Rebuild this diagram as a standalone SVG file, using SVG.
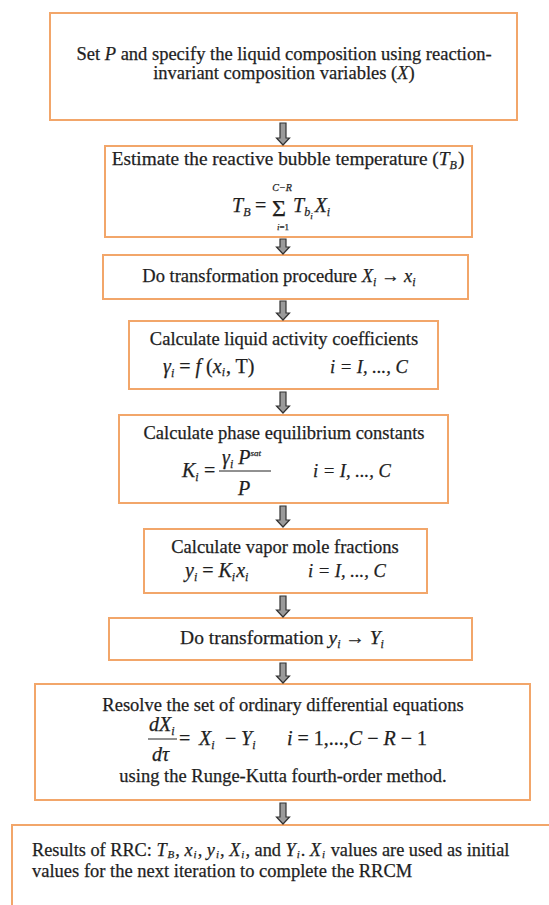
<svg xmlns="http://www.w3.org/2000/svg" width="549" height="905" viewBox="0 0 549 905">
<style>
.box{fill:#fff;stroke:#F2A66A;stroke-width:2}
.t{font-family:"Liberation Serif","Times New Roman",serif;font-size:18.5px;fill:#1e1e1e;stroke:#1e1e1e;stroke-width:0.25}
.f{font-size:20px}
.m{text-anchor:middle}
.i{font-style:italic}
.s{font-size:12px}
.s9{font-size:11px}
.ss{font-size:9px}
.arr{fill:#9a9a9a;stroke:#333;stroke-width:1.2}
.bar{stroke:#222;stroke-width:1}
</style>
<rect width="549" height="905" fill="#fff"/>
<g id="n1">
<rect class="box" x="50" y="13" width="467" height="107"/>
<text class="t m" x="284" y="60">Set <tspan class="i">P</tspan> and specify the liquid composition using reaction-</text>
<text class="t m" x="284" y="79">invariant composition variables (<tspan class="i">X</tspan>)</text>
</g>
<g id="n2">
<rect class="box" x="105" y="146" width="367" height="91"/>
<text class="t m" x="288" y="165" style="font-size:19.3px">Estimate the reactive bubble temperature (<tspan class="i">T</tspan><tspan class="i s" dy="4">B</tspan><tspan dy="-4" dx="1">)</tspan></text>
<text class="t i f" x="232" y="212">T<tspan class="s" dy="4">B</tspan></text>
<text class="t f" x="255" y="212">=</text>
<text class="t" x="272" y="216" style="font-size:24px">Σ</text>
<text class="t i m" x="282" y="191" style="font-size:10px">C−R</text>
<text class="t m" x="283" y="230" style="font-size:9px"><tspan class="i">i</tspan>=1</text>
<text class="t i f" x="293" y="212">T<tspan class="s" dy="4">b</tspan><tspan class="ss" dy="3">i</tspan><tspan dy="-7" dx="2">X</tspan><tspan class="s" dy="4">i</tspan></text>
</g>
<g id="n3">
<rect class="box" x="103" y="255" width="365" height="44"/>
<text class="t m" x="279" y="282">Do transformation procedure <tspan class="i">X</tspan><tspan class="i s" dy="4">i</tspan><tspan dy="-4"> → </tspan><tspan class="i">x</tspan><tspan class="i s" dy="4">i</tspan></text>
</g>
<g id="n4">
<rect class="box" x="129" y="321" width="309" height="68"/>
<text class="t m" x="284" y="345">Calculate liquid activity coefficients</text>
<text class="t f" x="163" y="373"><tspan class="i">γ</tspan><tspan class="i s" dy="4">i</tspan><tspan dy="-4"> = </tspan><tspan class="i">f</tspan> (<tspan class="i">x</tspan><tspan class="i s" dy="3">i</tspan><tspan dy="-3" dx="1">, T)</tspan></text>
<text class="t i" x="330" y="373">i = I, ..., C</text>
</g>
<g id="n5">
<rect class="box" x="119" y="415" width="329" height="88"/>
<text class="t m" x="284" y="439">Calculate phase equilibrium constants</text>
<text class="t i f" x="182" y="477">K<tspan class="s" dy="4">i</tspan></text>
<text class="t f" x="204" y="477">=</text>
<text class="t i f" x="222" y="464">γ<tspan class="s" dy="4">i</tspan><tspan dy="-4"> P</tspan><tspan class="ss" dy="-8">sat</tspan></text>
<line class="bar" x1="219" y1="471" x2="271" y2="471"/>
<text class="t i m f" x="244" y="495">P</text>
<text class="t i" x="313" y="477">i = I, ..., C</text>
</g>
<g id="n6">
<rect class="box" x="144" y="529" width="283" height="64"/>
<text class="t m" x="285" y="553">Calculate vapor mole fractions</text>
<text class="t f" x="185" y="577"><tspan class="i">y</tspan><tspan class="i s" dy="4">i</tspan><tspan dy="-4"> = </tspan><tspan class="i">K</tspan><tspan class="i s" dy="4">i</tspan><tspan class="i" dy="-4" dx="1">x</tspan><tspan class="i s" dy="4">i</tspan></text>
<text class="t i" x="308" y="577">i = I, ..., C</text>
</g>
<g id="n7">
<rect class="box" x="109" y="618" width="363" height="42"/>
<text class="t m" x="282" y="644" style="font-size:19.5px">Do transformation  <tspan class="i">y</tspan><tspan class="i s" dy="4">i</tspan><tspan dy="-4"> → </tspan><tspan class="i">Y</tspan><tspan class="i s" dy="4">i</tspan></text>
</g>
<g id="n8">
<rect class="box" x="35" y="684" width="495" height="116"/>
<text class="t m" x="283" y="711">Resolve the set of ordinary differential equations</text>
<text class="t i f" x="149" y="731">dX<tspan class="s" dy="4">i</tspan></text>
<line class="bar" x1="148" y1="739" x2="177" y2="739"/>
<text class="t i f" x="152" y="761">dτ</text>
<text class="t f" x="179" y="745">=</text>
<text class="t i f" x="199" y="745">X<tspan class="s" dy="4">i</tspan></text>
<text class="t f" x="225" y="745">−</text>
<text class="t i f" x="241" y="745">Y<tspan class="s" dy="4">i</tspan></text>
<text class="t f" x="287" y="745"><tspan class="i">i</tspan> = 1,...,<tspan class="i">C</tspan> − <tspan class="i">R</tspan> − 1</text>
<text class="t m" x="283" y="782">using the Runge-Kutta fourth-order method.</text>
</g>
<g id="n9">
<rect class="box" x="12" y="825" width="560" height="110"/>
<text class="t" x="32" y="856" style="font-size:18.3px">Results of RRC: <tspan class="i">T</tspan><tspan class="i s9" dy="2" dx="1">B</tspan><tspan dy="-2" dx="1">, </tspan><tspan class="i">x</tspan><tspan class="i s9" dy="2" dx="1">i</tspan><tspan dy="-2" dx="1">, </tspan><tspan class="i">y</tspan><tspan class="i s9" dy="2" dx="1">i</tspan><tspan dy="-2" dx="1">, </tspan><tspan class="i">X</tspan><tspan class="i s9" dy="2" dx="1">i</tspan><tspan dy="-2" dx="1">, and </tspan><tspan class="i">Y</tspan><tspan class="i s9" dy="2" dx="1">i</tspan><tspan dy="-2" dx="1">. </tspan><tspan class="i">X</tspan><tspan class="i s9" dy="2" dx="1">i</tspan><tspan dy="-2" dx="1"> values are used as initial</tspan></text>
<text class="t" x="32" y="877" style="font-size:18.5px">values for the next iteration to complete the RRCM</text>
</g>
<g id="connectors">
<path class="arr" d="M280,123H286V138H289.5L283,145L276.5,138H280Z"/>
<path class="arr" d="M280,239H286V247H289.5L283,254L276.5,247H280Z"/>
<path class="arr" d="M280,301H286V313H289.5L283,320L276.5,313H280Z"/>
<path class="arr" d="M280,392H286V406H289.5L283,413L276.5,406H280Z"/>
<path class="arr" d="M280,506H286V520H289.5L283,527L276.5,520H280Z"/>
<path class="arr" d="M280,596H286V610H289.5L283,617L276.5,610H280Z"/>
<path class="arr" d="M280,663H286V676H289.5L283,683L276.5,676H280Z"/>
<path class="arr" d="M280,803H286V817H289.5L283,824L276.5,817H280Z"/>
</g>
</svg>
